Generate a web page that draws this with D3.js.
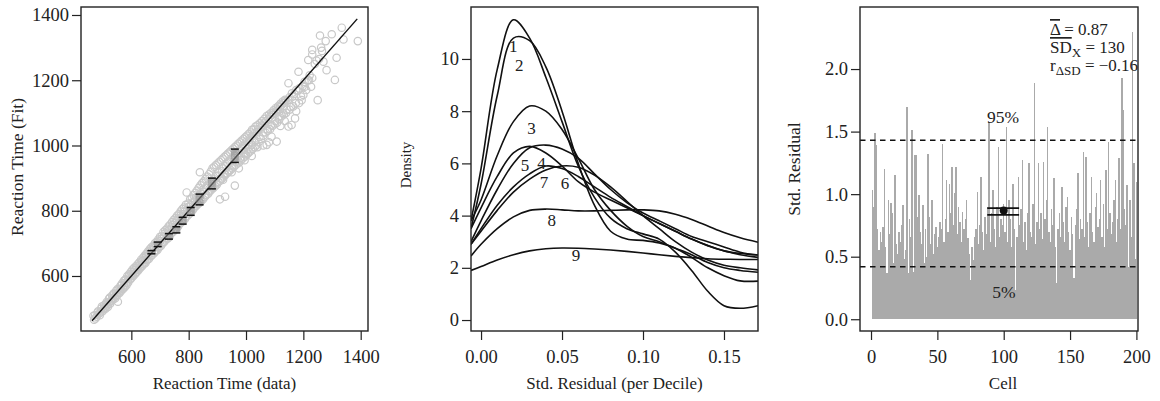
<!DOCTYPE html>
<html>
<head>
<meta charset="utf-8">
<script src="https://cdn.jsdelivr.net/npm/d3@7"></script>
<style>
  body { margin: 0; background: #fff; }
  svg text { font-family: "Liberation Serif", "Times New Roman", serif; fill: #222; }
</style>
</head>
<body>
<svg id="fig" width="1160" height="401"></svg>
<script>
// ---- panel 1 : reaction times, data vs fit
const rtPoints = [
  [468,478],[475,470],[482,488],[490,480],[495,500],[500,492],[505,510],[510,500],[514,520],[518,505],
  [522,530],[526,515],[530,525],[533,540],[537,528],[540,545],[544,532],[547,555],[550,540],[553,521],
  [556,560],[559,548],[562,570],[565,555],[568,578],[571,560],[574,585],[577,566],[580,590],[583,572],
  [586,600],[589,580],[592,605],[595,590],[598,612],[601,595],[604,620],[607,600],[610,625],[613,606],
  [616,630],[619,612],[622,636],[625,618],[628,642],[631,625],[634,650],[637,630],[640,655],[643,636],
  [646,662],[649,640],[652,668],[655,648],[658,675],[661,652],[664,682],[667,660],[670,688],[673,665],
  [676,692],[679,670],[682,700],[685,676],[688,705],[691,680],[694,712],[697,688],[700,720],[703,692],
  [706,722],[709,700],[712,735],[715,705],[718,740],[721,712],[724,745],[727,715],[730,752],[733,720],
  [736,758],[739,730],[742,765],[745,735],[748,772],[751,740],[754,778],[757,745],[760,785],[763,752],
  [766,790],[769,760],[772,798],[775,765],[778,805],[781,770],[784,810],[787,775],[790,818],[793,856],
  [796,785],[799,822],[802,790],[805,835],[808,800],[811,840],[814,802],[817,848],[820,810],[823,855],
  [826,815],[829,862],[832,820],[835,870],[839,918],[838,825],[841,878],[844,830],[847,885],[850,835],
  [853,890],[856,842],[859,898],[862,848],[865,905],[868,852],[871,912],[874,860],[877,920],[880,865],
  [883,930],[886,870],[889,935],[892,875],[895,940],[898,880],[909,835],[927,843],[901,945],[904,888],
  [907,950],[910,892],[913,955],[916,898],[919,960],[922,905],[925,965],[928,910],[931,970],[934,915],
  [937,975],[940,920],[943,980],[946,925],[949,985],[952,930],[955,990],[958,935],[961,877],[961,995],
  [964,940],[967,1000],[970,945],[973,1005],[976,948],[979,1010],[982,955],[985,1015],[988,960],[991,1020],
  [994,965],[997,1025],[1000,970],[1003,1030],[1006,975],[1009,1035],[1012,980],[1015,1040],[1018,985],[1021,1048],
  [1024,990],[1027,1050],[1030,995],[1033,1058],[1036,1000],[1040,1062],[1044,1010],[1048,1068],[1052,1020],[1056,1075],
  [1060,1030],[1064,1082],[1068,1040],[1072,1002],[1072,1090],[1076,1045],[1080,1095],[1084,1050],[1089,1027],[1088,1100],
  [1092,1060],[1096,1108],[1100,1065],[1104,1115],[1107,1012],[1108,1070],[1112,1120],[1116,1080],[1120,1128],[1124,1090],
  [1128,1135],[1132,1095],[1136,1140],[1140,1100],[1148,1058],[1148,1191],[1152,1110],[1159,1063],[1160,1160],[1165,1120],
  [1171,1083],[1175,1170],[1183,1226],[1185,1130],[1194,1139],[1200,1155],[1205,1180],[1217,1262],[1220,1200],[1227,1180],
  [1231,1207],[1231,1279],[1231,1293],[1250,1139],[1258,1337],[1270,1257],[1278,1320],[1281,1231],[1299,1341],[1310,1201],
  [1316,1269],[1334,1361],[1340,1325],[1390,1320],
  [470,466],[474,480],[479,475],[484,492],[488,485],[493,489],[497,506],[502,498],[507,503],[512,515],
  [516,510],[521,519],[525,534],[529,522],[534,531],[538,546],[543,537],[547,543],[552,560],[556,549],
  [561,558],[565,572],[570,563],[574,570],[579,588],[583,578],[588,586],[592,598],[597,590],[601,607],
  [606,603],[610,617],[615,609],[619,626],[624,620],[628,633],[633,628],[637,646],[642,637],[646,650],
  [651,660],[655,651],[660,665],[664,676],[669,662],[673,679],[678,688],[682,676],[687,693],[691,702],
  [696,690],[700,707],[705,715],[709,703],[714,722],[718,731],[723,716],[727,733],[732,741],[736,729],
  [741,748],[745,757],[750,743],[754,762],[759,770],[763,757],[768,776],[772,785],[777,770],[781,790],
  [786,798],[790,782],[795,803],[799,812],[804,797],[808,817],[813,826],[817,808],[822,830],[826,840],
  [831,822],[835,845],[840,853],[844,834],[849,858],[853,866],[858,848],[862,870],[867,878],[871,860],
  [876,884],[880,892],[885,873],[889,896],[894,906],[898,886],[903,908],[907,918],[912,898],[916,922],
  [921,930],[925,912],[930,936],[934,946],[939,924],[943,950],[948,958],[952,938],[957,962],[961,970],
  [966,950],[970,975],[975,984],[979,962],[984,990],[988,998],[993,975],[997,1002],[1002,1012],[1006,990],
  [1011,1016],[1015,1024],[1020,1002],[1024,1030],[1029,1037],[1033,1015],[1038,1042],[1042,1050],[1047,1026],[1051,1055],
  [1056,1062],[1060,1040],[1065,1068],[1069,1075],[1074,1050],[1078,1080],[1083,1088],[1087,1062],[1092,1094],[1096,1100],
  [1101,1075],[1105,1105],[1110,1112],[1114,1088],[1119,1118],[1124,1125],[1128,1100],[1133,1130],[1138,1136],[1142,1110],
  [1147,1140],[1152,1148],[1157,1118],[1162,1150],[1168,1158],[1174,1130],[1180,1168],[1186,1175],[1192,1150],[1198,1182],
  [1204,1195],[1210,1170],[1215,1200],[1222,1215],[1240,1250],[1246,1260],[1255,1265],[1262,1300],[1265,1290],[1060,1000],
  [1080,1010],[1040,995],[1020,968],[995,955],[975,930],[950,918],[920,895],[1120,1060],[1135,1075],[1175,1105]
];
// decile means (x) with interval lo / hi on the fit axis
const decileX  = [670, 692, 731, 757, 779, 807, 838, 881, 961];
const decileLo = [668, 690, 713, 732, 759, 786, 818, 867, 948];
const decileHi = [678, 704, 730, 751, 780, 810, 851, 900, 989];
const identityLine = [463, 1388];
const rtTicks = [600, 800, 1000, 1200, 1400];

// ---- panel 2 : density of std. residual per decile
const residX = [-0.0062, 0, 0.01, 0.02, 0.03, 0.04, 0.05, 0.06, 0.07, 0.08, 0.09,
                0.10, 0.11, 0.12, 0.13, 0.14, 0.15, 0.16, 0.171];
const dens1 = [3.8, 5.8, 9.6, 11.5, 10.8, 9.3, 7.6, 5.9, 4.7, 3.9, 3.5, 3.3, 3.1, 2.6, 1.9, 1.1, 0.55, 0.45, 0.55];
const dens2 = [3.5, 5.2, 8.6, 10.8, 10.7, 9.7, 8.0, 6.0, 4.4, 3.4, 3.1, 3.05, 2.95, 2.75, 2.4, 2.0, 1.7, 1.5, 1.49];
const dens3 = [3.8, 4.6, 6.3, 7.6, 8.2, 8.0, 7.3, 6.2, 5.0, 4.2, 3.6, 3.2, 3.0, 2.75, 2.5, 2.2, 2.0, 1.9, 1.83];
const dens4 = [3.0, 3.8, 5.0, 6.0, 6.6, 6.7, 6.55, 6.2, 5.6, 5.0, 4.5, 4.1, 3.8, 3.5, 3.2, 3.0, 2.8, 2.6, 2.49];
const dens5 = [3.5, 4.3, 5.5, 6.4, 6.65, 6.4, 5.9, 5.3, 4.9, 4.6, 4.3, 4.0, 3.7, 3.4, 3.1, 2.85, 2.65, 2.55, 2.49];
const dens6 = [2.9, 3.4, 4.2, 4.9, 5.4, 5.75, 5.9, 5.85, 5.55, 5.1, 4.55, 4.0, 3.5, 3.0, 2.6, 2.3, 2.1, 2.0, 1.92];
const dens7 = [2.9, 3.5, 4.4, 5.1, 5.6, 5.9, 5.8, 5.5, 5.1, 4.7, 4.35, 4.0, 3.7, 3.4, 3.1, 2.85, 2.65, 2.5, 2.4];
const dens8 = [2.45, 2.9, 3.5, 3.95, 4.2, 4.25, 4.22, 4.18, 4.18, 4.2, 4.22, 4.22, 4.18, 4.05, 3.85, 3.6, 3.35, 3.15, 2.98];
const dens9 = [1.9, 2.05, 2.3, 2.5, 2.65, 2.73, 2.76, 2.75, 2.72, 2.68, 2.63, 2.57, 2.5, 2.44, 2.39, 2.35, 2.33, 2.32, 2.32];
const densCurves = [dens1, dens2, dens3, dens4, dens5, dens6, dens7, dens8, dens9];
const curveLabels = ["1", "2", "3", "4", "5", "6", "7", "8", "9"];
const labelX = [0.0199, 0.0236, 0.0312, 0.0374, 0.0271, 0.0518, 0.0388, 0.0436, 0.0586];
const labelY = [10.5, 9.77, 7.36, 6.0, 5.94, 5.26, 5.3, 3.83, 2.49];
const residTicks = [0, 0.05, 0.10, 0.15];
const densTicks = [0, 2, 4, 6, 8, 10];

// ---- panel 3 : std. residual per cell
const cellResid = [
  1.03,0.90,1.49,1.39,0.72,0.55,0.70,0.62,0.74,1.20,
  0.58,0.37,0.95,0.68,0.93,0.85,0.45,1.15,0.60,0.52,
  0.70,0.62,0.75,0.91,0.48,0.55,1.70,0.37,0.80,0.66,
  1.51,0.38,1.31,1.31,0.82,0.99,0.70,0.60,0.91,0.45,
  0.72,0.50,1.32,0.82,0.60,0.95,0.52,0.68,0.74,0.58,
  0.66,0.78,0.72,1.40,0.62,0.80,1.11,0.70,1.08,0.85,
  1.22,0.75,1.01,1.22,0.68,0.90,0.78,0.62,0.86,0.72,
  0.80,0.95,0.65,0.52,0.31,0.58,0.47,0.66,0.72,1.02,
  0.60,0.75,1.14,0.70,0.55,0.82,0.68,0.90,1.58,0.62,
  0.85,1.03,0.72,0.58,0.90,1.38,0.66,0.80,0.75,0.92,
  0.70,1.54,0.62,0.95,0.80,0.58,1.08,0.72,0.23,0.66,
  1.14,0.75,0.88,1.27,0.62,0.78,0.55,0.85,1.25,0.70,
  0.66,0.92,1.89,0.60,0.78,1.25,0.72,0.85,0.64,1.26,
  0.80,0.95,1.54,0.70,0.62,0.88,0.75,1.13,0.58,0.29,
  0.72,0.85,0.66,1.06,0.78,0.62,0.90,0.98,0.70,0.55,
  0.82,0.68,0.33,0.75,0.88,1.17,0.64,0.80,0.72,1.34,
  0.66,1.30,0.78,0.58,0.85,1.14,0.70,0.62,0.90,1.01,
  0.74,0.80,1.11,0.66,0.92,0.58,1.19,0.72,1.42,0.85,
  0.68,0.78,0.95,1.11,0.62,0.80,1.29,0.72,1.93,1.67,
  0.88,0.75,1.07,0.42,0.95,0.66,2.30,1.25,0.48,1.10
];
const pct95 = 1.43, pct5 = 0.42;
const meanCell = 100, meanResid = 0.87, meanLo = 0.834, meanHi = 0.888, meanSpan = [87.6, 111.6];
const cellTicks = [0, 50, 100, 150, 200];
const residTicks3 = [0, 0.5, 1.0, 1.5, 2.0];

const svg = d3.select("#fig");
const plotTop = 7, plotBottom = 331;
const font = "Liberation Serif";

function frame(g, x0, x1) {
  g.append("rect").attr("x", x0).attr("y", plotTop).attr("width", x1 - x0).attr("height", plotBottom - plotTop)
    .attr("fill", "none").attr("stroke", "#222").attr("stroke-width", 1.4);
}
function axes(g, x, y, xt, yt, xf, yf) {
  const ax = g.append("g").attr("transform", `translate(0,${plotBottom})`)
    .call(d3.axisBottom(x).tickValues(xt).tickFormat(xf).tickSize(9).tickPadding(6).tickSizeOuter(0));
  const ay = g.append("g").attr("transform", `translate(${x.range()[0]},0)`)
    .call(d3.axisLeft(y).tickValues(yt).tickFormat(yf).tickSize(9).tickPadding(3).tickSizeOuter(0));
  [ax, ay].forEach(a => {
    a.select(".domain").remove();
    a.selectAll(".tick line").attr("stroke", "#222").attr("stroke-width", 1.2);
    a.selectAll(".tick text").attr("font-family", font).attr("font-size", 18.5).attr("fill", "#222");
  });
  ax.selectAll(".tick text").attr("dy", "0.9em");
}
function title(g, txt, x, y, rot, size) {
  g.append("text").attr("x", x).attr("y", y).attr("text-anchor", "middle")
    .attr("font-size", size).attr("transform", rot ? `rotate(-90,${x},${y})` : null).text(txt);
}

// ================= panel 1
const p1 = svg.append("g");
const x1 = d3.scaleLinear().domain([424.4, 1425.5]).range([81, 368]);
const y1 = d3.scaleLinear().domain([431.4, 1424.5]).range([331, 7]);
p1.append("g").selectAll("circle").data(rtPoints).join("circle")
  .attr("cx", d => x1(d[0])).attr("cy", d => y1(d[1])).attr("r", 3.7)
  .attr("fill", "none").attr("stroke", "#c8c8c8").attr("stroke-width", 1.2);
p1.append("line")
  .attr("x1", x1(identityLine[0])).attr("y1", y1(identityLine[0]))
  .attr("x2", x1(identityLine[1])).attr("y2", y1(identityLine[1]))
  .attr("stroke", "#111").attr("stroke-width", 1.4);
const eb = p1.append("g").selectAll("g").data(decileX).join("g");
eb.append("rect").attr("x", d => x1(d) - 4).attr("width", 8)
  .attr("y", (d, i) => y1(decileHi[i])).attr("height", (d, i) => y1(decileLo[i]) - y1(decileHi[i]))
  .attr("fill", "#8a8a8a").attr("opacity", 0.55);
eb.append("line").attr("x1", d => x1(d) - 4).attr("x2", d => x1(d) + 4)
  .attr("y1", (d, i) => y1(decileHi[i])).attr("y2", (d, i) => y1(decileHi[i]))
  .attr("stroke", "#111").attr("stroke-width", 1.5);
eb.append("line").attr("x1", d => x1(d) - 4).attr("x2", d => x1(d) + 4)
  .attr("y1", (d, i) => y1(decileLo[i])).attr("y2", (d, i) => y1(decileLo[i]))
  .attr("stroke", "#111").attr("stroke-width", 1.5);
frame(p1, 81, 368);
axes(p1, x1, y1, rtTicks, rtTicks, d3.format("d"), d3.format("d"));
title(p1, "Reaction Time (data)", 224.5, 389, false, 17);
title(p1, "Reaction Time (Fit)", 23, 167, true, 17.5);

// ================= panel 2
const p2 = svg.append("g");
const x2 = d3.scaleLinear().domain([-0.0062, 0.171]).range([471, 758]);
const y2 = d3.scaleLinear().domain([-0.42, 11.99]).range([331, 7]);
svg.append("clipPath").attr("id", "clip2").append("rect")
  .attr("x", 471).attr("y", plotTop).attr("width", 287).attr("height", plotBottom - plotTop);
const dline = d3.line().x((d, i) => x2(residX[i])).y(d => y2(d)).curve(d3.curveCatmullRom.alpha(0.5));
p2.append("g").attr("clip-path", "url(#clip2)").selectAll("path").data(densCurves).join("path")
  .attr("d", dline).attr("fill", "none").attr("stroke", "#111").attr("stroke-width", 1.6);
p2.append("g").selectAll("text").data(curveLabels).join("text")
  .attr("x", (d, i) => x2(labelX[i])).attr("y", (d, i) => y2(labelY[i]))
  .attr("text-anchor", "middle").attr("dy", "0.35em").attr("font-size", 17).text(d => d);
frame(p2, 471, 758);
axes(p2, x2, y2, residTicks, densTicks, d3.format(".2f"), d3.format("d"));
title(p2, "Std. Residual (per Decile)", 614.5, 389, false, 17);
title(p2, "Density", 411, 165, true, 15);

// ================= panel 3
const p3 = svg.append("g");
const x3 = d3.scaleLinear().domain([-8.3, 201.2]).range([860, 1138]);
const y3 = d3.scaleLinear().domain([-0.094, 2.496]).range([331, 7]);
const cw = x3(1) - x3(0);
p3.append("g").attr("shape-rendering", "crispEdges")
  .selectAll("rect").data(cellResid).join("rect")
  .attr("x", (d, i) => x3(i + 1) - cw / 2).attr("width", cw + 0.1)
  .attr("y", d => y3(d)).attr("height", d => y3(0) - y3(d))
  .attr("fill", "#aaaaaa");
[pct95, pct5].forEach(v => {
  p3.append("line").attr("x1", 860).attr("x2", 1138).attr("y1", y3(v)).attr("y2", y3(v))
    .attr("stroke", "#111").attr("stroke-width", 1.5).attr("stroke-dasharray", "5.5,4.5");
});
p3.append("text").attr("x", 1003).attr("y", 117).attr("dy", "0.35em").attr("text-anchor", "middle")
  .attr("font-size", 17.5).text("95%");
p3.append("text").attr("x", 1004).attr("y", 292).attr("dy", "0.35em").attr("text-anchor", "middle")
  .attr("font-size", 17.5).text("5%");
[meanLo, meanHi].forEach(v => {
  p3.append("line").attr("x1", x3(meanSpan[0])).attr("x2", x3(meanSpan[1]))
    .attr("y1", y3(v)).attr("y2", y3(v)).attr("stroke", "#111").attr("stroke-width", 1.7);
});
p3.append("circle").attr("cx", x3(meanCell)).attr("cy", y3(meanResid)).attr("r", 4).attr("fill", "#111");

const st = p3.append("g").attr("font-size", 17);
const t1 = st.append("text").attr("x", 1050).attr("y", 35);
t1.append("tspan").attr("text-decoration", "overline").text("Δ");
t1.append("tspan").text(" = 0.87");
const t2 = st.append("text").attr("x", 1050).attr("y", 53);
t2.append("tspan").attr("text-decoration", "overline").text("SD");
t2.append("tspan").attr("font-size", 13).attr("dy", 4).text("X");
t2.append("tspan").attr("dy", -4).text(" = 130");
const t3 = st.append("text").attr("x", 1050).attr("y", 71);
t3.append("tspan").text("r");
t3.append("tspan").attr("font-size", 13).attr("dy", 4).text("ΔSD");
t3.append("tspan").attr("dy", -4).text(" = −0.16");

frame(p3, 860, 1138);
axes(p3, x3, y3, cellTicks, residTicks3, d3.format("d"), d3.format(".1f"));
title(p3, "Cell", 1003, 389, false, 17);
title(p3, "Std. Residual", 800, 169, true, 17.5);
</script>
</body>
</html>
